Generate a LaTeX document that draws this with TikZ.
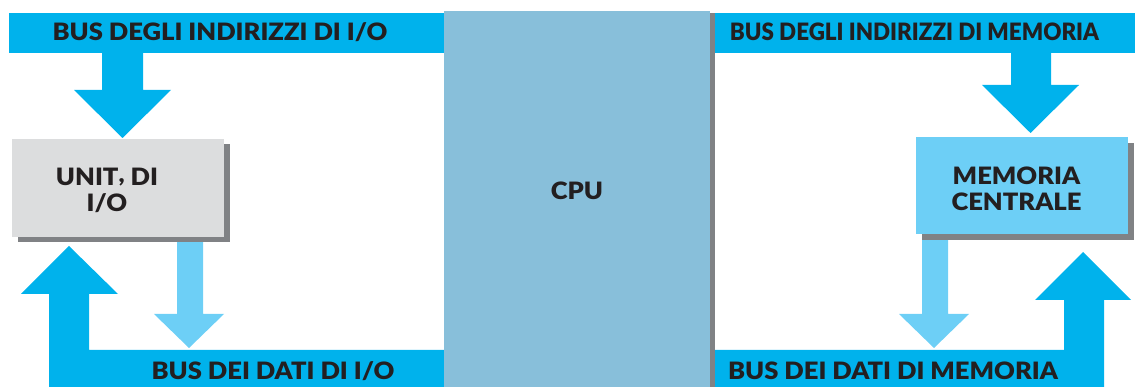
\documentclass[tikz,border=0pt]{standalone}
\usepackage{fontspec}
\setmainfont{Lato}[BoldFont={Lato Black},BoldFeatures={FakeStretch=1.07}]
\usepackage{tikz}
\usetikzlibrary{shapes,arrows,backgrounds,%
positioning,fit,calc,shadows%
}

\begin{document}
\begin{tikzpicture}[line join=miter,
  lbl/.style={font=\bfseries\fontsize{24}{26}\selectfont,text=txtcol,align=center,inner sep=0pt},
  unitbox/.style={fill=graycol,minimum width=212bp,minimum height=98bp,inner sep=0pt,
    drop shadow={shadow xshift=6bp,shadow yshift=-5bp,fill=shadowcol,opacity=1}},
  membox/.style={fill=lightcol,minimum width=212bp,minimum height=97bp,inner sep=0pt,
    drop shadow={shadow xshift=6bp,shadow yshift=-6bp,fill=shadowcol,opacity=1}},
  cpubox/.style={fill=cpucol,minimum width=266bp,minimum height=381bp,inner sep=0pt,
    drop shadow={shadow xshift=5bp,shadow yshift=-2bp,fill=shadowcol,opacity=1}},
  ]
%%
  \definecolor{buscol}{rgb}{0.0,0.698,0.925};
  \definecolor{lightcol}{rgb}{0.427,0.812,0.965};
  \definecolor{cpucol}{rgb}{0.533,0.749,0.855};
  \definecolor{graycol}{rgb}{0.863,0.867,0.871};
  \definecolor{shadowcol}{rgb}{0.502,0.510,0.522};
  \definecolor{txtcol}{rgb}{0.137,0.122,0.125};
  \useasboundingbox (0bp,0bp) rectangle (1140bp,387bp);
%% lato I/O
  \fill [buscol] (9bp,334bp) rectangle (444bp,374bp);
  \fill [buscol] (102bp,334bp) -- (102bp,297bp) -- (74bp,297bp) -- (122.5bp,249bp)
    -- (171bp,297bp) -- (143bp,297bp) -- (143bp,334bp) -- cycle;
  \fill [buscol] (444bp,0bp) -- (444bp,37bp) -- (89bp,37bp) -- (89bp,93bp) -- (118bp,93bp)
    -- (69bp,141bp) -- (21bp,93bp) -- (49bp,93bp) -- (49bp,0bp) -- cycle;
  \fill [lightcol] (177bp,150bp) -- (177bp,73bp) -- (154bp,73bp) -- (189bp,39bp)
    -- (224bp,73bp) -- (203bp,73bp) -- (203bp,150bp) -- cycle;
  \node (iobox) at (118bp,199bp) [unitbox] {};
  \node (iolbl) at (107bp,196.5bp) [lbl] {UNIT\raisebox{3bp}{,} DI\\I/O};
  \node (ioaddr) at (220bp,355bp) [lbl] {BUS DEGLI INDIRIZZI DI I/O};
  \node (iodata) at (273bp,16bp) [lbl] {BUS DEI DATI DI I/O};
%% CPU
  \node (cpu) at (577bp,185.5bp) [cpubox] {};
  \node (cpulbl) at (577bp,196bp) [lbl] {CPU};
%% lato memoria
  \fill [buscol] (715bp,334bp) rectangle (1135bp,374bp);
  \fill [buscol] (1011bp,334bp) -- (1011bp,302bp) -- (982bp,302bp) -- (1030.5bp,254bp)
    -- (1079bp,302bp) -- (1051bp,302bp) -- (1051bp,334bp) -- cycle;
  \fill [buscol] (715bp,0bp) -- (715bp,37bp) -- (1064bp,37bp) -- (1064bp,87bp) -- (1035bp,87bp)
    -- (1083bp,135bp) -- (1131bp,87bp) -- (1104bp,87bp) -- (1104bp,0bp) -- cycle;
  \fill [lightcol] (922bp,153bp) -- (922bp,73bp) -- (899bp,73bp) -- (934bp,39bp)
    -- (969bp,73bp) -- (948bp,73bp) -- (948bp,153bp) -- cycle;
  \node (mem) at (1022bp,201.5bp) [membox] {};
  \node (memlbl) at (1016.5bp,198bp) [lbl] {MEMORIA\\CENTRALE};
  \node (memaddr) at (914.5bp,355bp) [lbl] {\scalebox{0.875}[1]{BUS DEGLI INDIRIZZI DI MEMORIA}};
  \node (memdata) at (893bp,16bp) [lbl] {BUS DEI DATI DI MEMORIA};
%
\end{tikzpicture}
\end{document}
